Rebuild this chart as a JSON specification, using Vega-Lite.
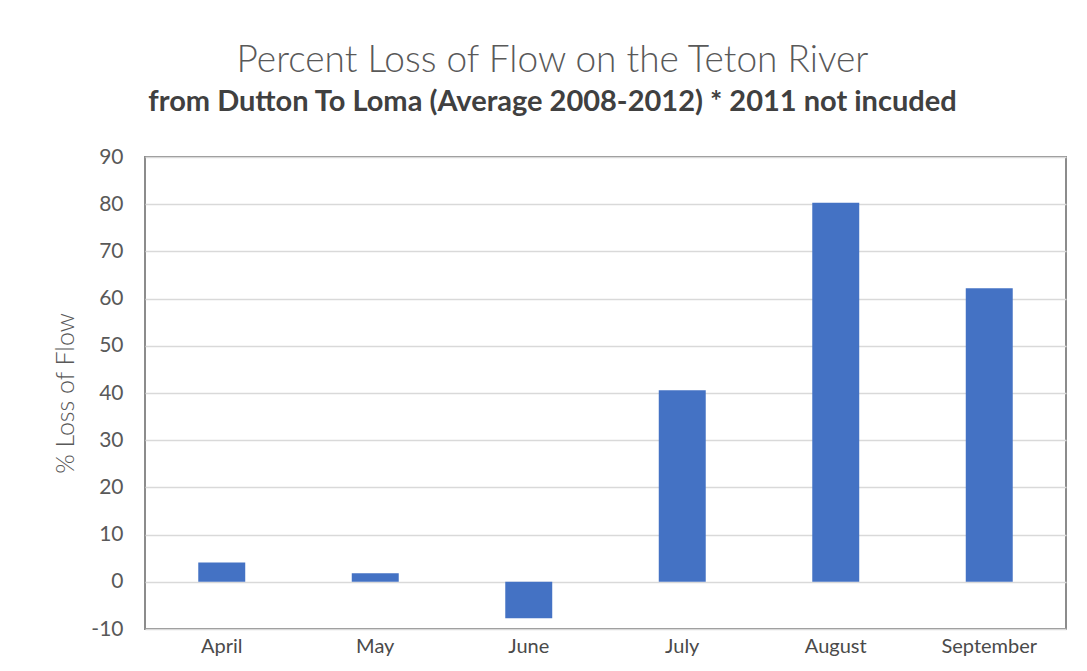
{
  "$schema": "https://vega.github.io/schema/vega-lite/v6.json",
  "autosize": {"type": "none"},
  "padding": {"left": 145, "top": 157, "right": 21, "bottom": 42},
  "width": 921,
  "height": 472,
  "background": "#ffffff",
  "title": {
    "text": "Percent Loss of Flow on the Teton River",
    "subtitle": "from Dutton To Loma (Average 2008-2012) * 2011 not incuded",
    "anchor": "middle",
    "dx": -53,
    "offset": 28,
    "font": "Lato",
    "fontSize": 37,
    "fontWeight": 300,
    "color": "#595959",
    "subtitleFont": "Lato",
    "subtitleFontSize": 29,
    "subtitleFontWeight": "bold",
    "subtitleColor": "#404040",
    "subtitlePadding": 8
  },
  "data": {
    "values": [
      {"month": "April", "loss": 4.1},
      {"month": "May", "loss": 1.8},
      {"month": "June", "loss": -7.7},
      {"month": "July", "loss": 40.6},
      {"month": "August", "loss": 80.3},
      {"month": "September", "loss": 62.2}
    ]
  },
  "mark": {"type": "bar", "color": "#4472C4"},
  "encoding": {
    "x": {
      "field": "month",
      "type": "nominal",
      "sort": null,
      "scale": {"paddingInner": 0.694, "paddingOuter": 0.347},
      "axis": {
        "title": null,
        "labelAngle": 0,
        "labelFont": "Lato",
        "labelFontSize": 20,
        "labelColor": "#4a4a4a",
        "labelPadding": 7,
        "ticks": false,
        "domain": false,
        "grid": false
      }
    },
    "y": {
      "field": "loss",
      "type": "quantitative",
      "scale": {"domain": [-10, 90], "nice": false, "zero": false},
      "axis": {
        "title": "% Loss of Flow",
        "titleFont": "Lato",
        "titleFontSize": 25,
        "titleFontWeight": 300,
        "titleColor": "#595959",
        "titlePadding": 12,
        "values": [-10, 0, 10, 20, 30, 40, 50, 60, 70, 80, 90],
        "labelExpr": "'' + datum.value",
        "labelFont": "Lato",
        "labelFontSize": 21,
        "labelColor": "#595959",
        "labelPadding": 22,
        "ticks": false,
        "domain": false,
        "grid": true,
        "gridColor": "#d9d9d9",
        "gridWidth": 1.5
      }
    }
  },
  "config": {
    "view": {"stroke": "#8c8c8c", "strokeWidth": 2}
  }
}
